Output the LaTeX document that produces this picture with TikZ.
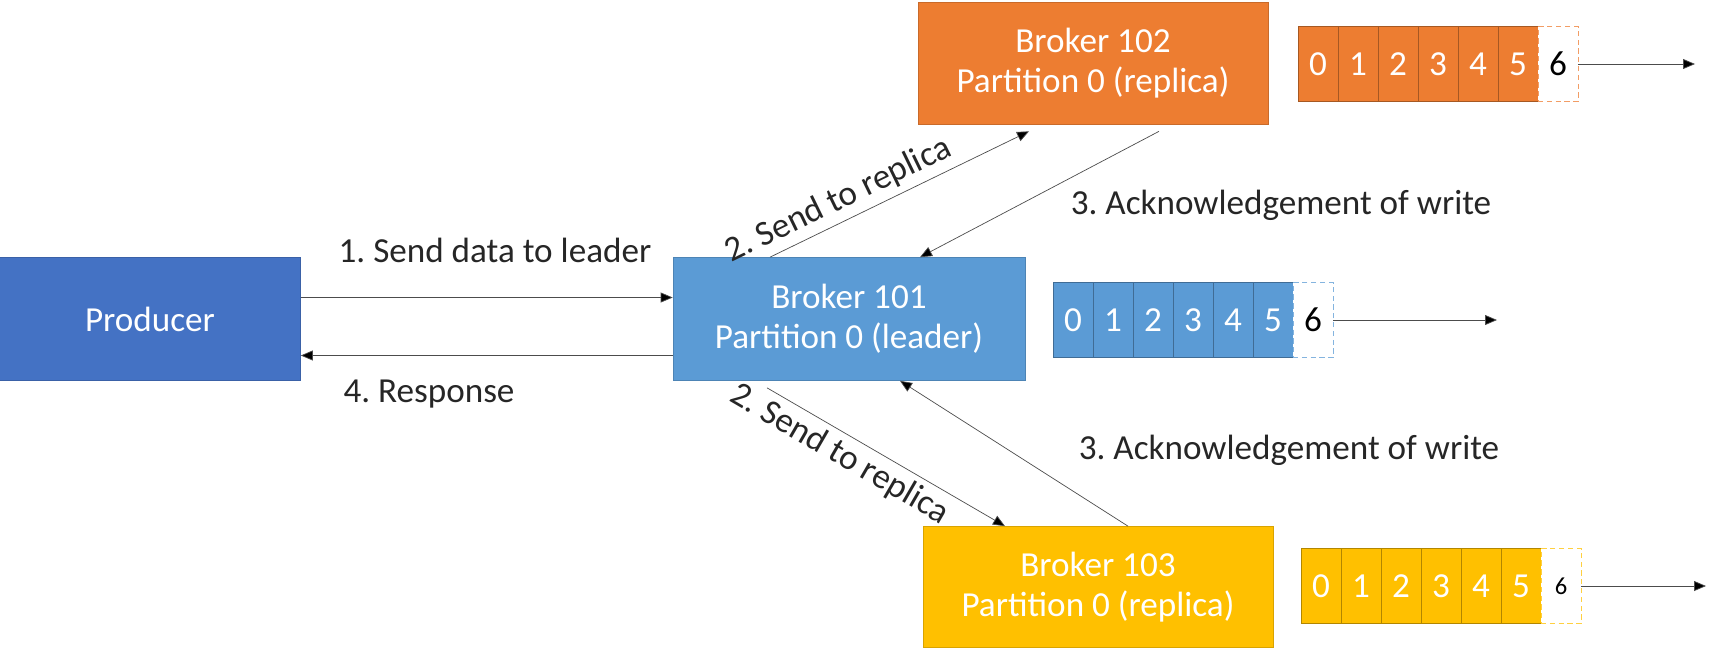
\documentclass[tikz,border=0pt]{standalone}
\usepackage{fontspec}
\setmainfont{Carlito}
\usetikzlibrary{arrows.meta}
\definecolor{prodblue}{HTML}{4472C4}
\definecolor{leadblue}{HTML}{5B9BD5}
\definecolor{replorange}{HTML}{ED7D31}
\definecolor{replyellow}{HTML}{FFC000}
\frenchspacing

\begin{document}
\begin{tikzpicture}[x=0.02cm, y=-0.02cm,
  box/.style={draw=#1!85!black, fill=#1, text=white, minimum height=2.46cm,
    align=center, inner sep=0pt, font=\fontsize{20}{23}\selectfont},
  cell/.style={draw=#1!70!black, fill=#1, text=white, minimum width=0.8cm,
    minimum height=1.5cm, inner sep=0pt, font=\fontsize{20}{23}\selectfont},
  newcell/.style={draw=#1!75, dashed, dash pattern=on 3pt off 2pt, fill=white,
    text=black, minimum width=0.8cm, minimum height=1.5cm, inner sep=0pt},
  msg/.style={draw=black!70, -{Triangle[length=2.4mm,width=2mm,fill=black]}},
  lbl/.style={text=black!85, font=\fontsize{20}{23}\selectfont}]
  \useasboundingbox (0,0) rectangle (1717,652);
  % producer en brokers
  \node[box=prodblue, minimum width=6.02cm] (prod) at (150,319) {Producer};
  \node[box=leadblue, minimum width=7.04cm] (b101) at (849,319) {Broker 101\\Partition 0 (leader)};
  \node[box=replorange, minimum width=7cm, minimum height=2.44cm] (b102) at (1093,63) {Broker 102\\Partition 0 (replica)};
  \node[box=replyellow, minimum width=7cm, minimum height=2.42cm] (b103) at (1098,587) {Broker 103\\Partition 0 (replica)};
  % producer <-> leader
  \draw[msg] ([yshift=0.43cm]prod.east) -- ([yshift=0.43cm]b101.west);
  \draw[msg] ([yshift=-0.73cm]b101.west) -- ([yshift=-0.73cm]prod.east);
  \node[lbl] (sendlbl) at (495,250) {1. Send data to leader};
  \node[lbl] (resplbl) at (429,394) {4. Response};
  % leader <-> replicas
  \draw[msg] ([xshift=-1.58cm]b101.north) -- ([xshift=-1.28cm,yshift=-0.14cm]b102.south)
    node[lbl, pos=0.3, above, sloped] (send1) {2. Send to replica};
  \draw[msg] ([xshift=1.32cm,yshift=-0.14cm]b102.south) -- ([xshift=1.42cm]b101.north);
  \draw[msg] ([xshift=-1.64cm,yshift=-0.14cm]b101.south) -- ([xshift=-1.86cm]b103.north)
    node[lbl, pos=0.35, below, sloped] (send2) {2. Send to replica};
  \draw[msg] ([xshift=0.6cm]b103.north) -- ([xshift=1.02cm]b101.south);
  \node[lbl] (ack1) at (1281,205) {3. Acknowledgement of write};
  \node[lbl] (ack2) at (1289,450) {3. Acknowledgement of write};
  % logs
  \foreach \row/\cx/\cy/\col/\endx/\six in {o/1318/64/replorange/1695/20,
      b/1073/320/leadblue/1497/20, y/1321/586/replyellow/1706/14} {
    \foreach \i in {0,...,5}
      \node[cell=\col] (\row\i) at (\cx+40*\i,\cy) {\i};
    \node[newcell=\col, font=\fontsize{\six}{\six}\selectfont] (\row6) at (\cx+240,\cy) {6};
    \coordinate (\row end) at (\endx,\cy);
    \draw[msg] (\row6.east) -- (\row end);
  }
\end{tikzpicture}
\end{document}
